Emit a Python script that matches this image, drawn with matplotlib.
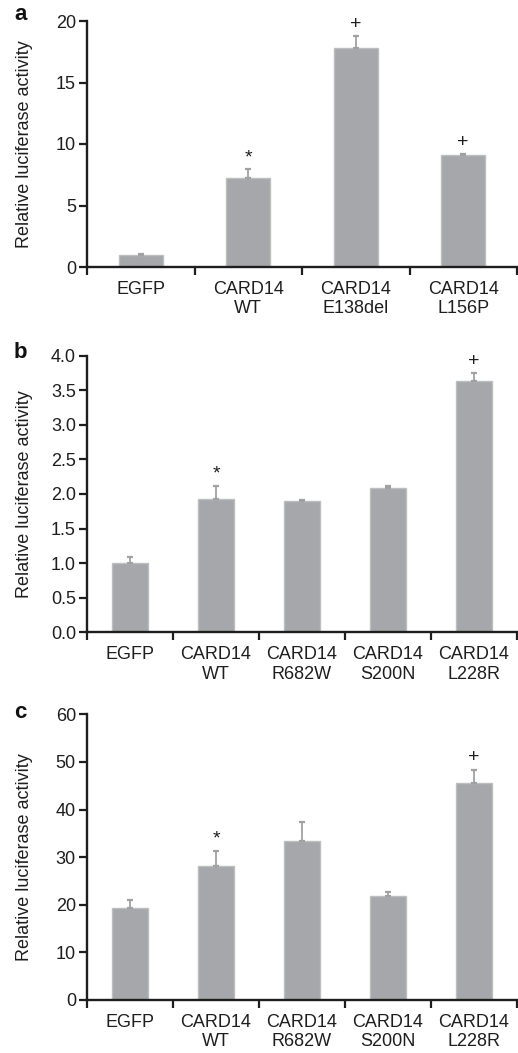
import matplotlib
matplotlib.use("Agg")
import matplotlib.pyplot as plt
import numpy as np

plt.rcParams['font.family'] = ['Liberation Sans', 'DejaVu Sans']

# Panel a
cats_a = ["EGFP", "CARD14\nWT", "CARD14\nE138del", "CARD14\nL156P"]
vals_a = [1.0, 7.2, 17.8, 9.1]
errs_a = [0.05, 0.8, 1.0, 0.12]
marks_a = ["", "*", "+", "+"]
yticks_a = [0, 5, 10, 15, 20]
ylim_a = (0, 20)

# Panel b
cats_b = ["EGFP", "CARD14\nWT", "CARD14\nR682W", "CARD14\nS200N", "CARD14\nL228R"]
vals_b = [1.0, 1.93, 1.90, 2.09, 3.64]
errs_b = [0.09, 0.19, 0.02, 0.03, 0.11]
marks_b = ["", "*", "", "", "+"]
yticks_b = [0.0, 0.5, 1.0, 1.5, 2.0, 2.5, 3.0, 3.5, 4.0]
ylim_b = (0, 4.0)

# Panel c
cats_c = ["EGFP", "CARD14\nWT", "CARD14\nR682W", "CARD14\nS200N", "CARD14\nL228R"]
vals_c = [19.4, 28.1, 33.4, 21.8, 45.6]
errs_c = [1.6, 3.1, 3.9, 0.9, 2.7]
marks_c = ["", "*", "", "", "+"]
yticks_c = [0, 10, 20, 30, 40, 50, 60]
ylim_c = (0, 60)

ylabel = "Relative luciferase activity"
panel_labels = ["a", "b", "c"]

W, H = 518, 1053
fig = plt.figure(figsize=(W / 100, H / 100), dpi=100)

bar_color = "#a6a7aa"
edge_color = "#bdbec0"
txt = "#1e1e1e"
FS = 13


def make_axes(top_px, bottom_px):
    left = 87 / W
    right = 517 / W
    return fig.add_axes([left, 1 - bottom_px / H, right - left, (bottom_px - top_px) / H])


def draw(ax, cats, vals, errs, marks, yticks, ylim, fmt, mark_off):
    n = len(cats)
    x = np.arange(n)
    lower = np.zeros(n)
    ax.bar(x, vals, width=0.41, color=bar_color, edgecolor=edge_color, linewidth=1.0,
           yerr=[lower, errs], error_kw=dict(ecolor="#a0a1a4", elinewidth=1.3, capsize=2.5, capthick=1.6),
           zorder=2)
    for xi, v, e, m in zip(x, vals, errs, marks):
        if m:
            ax.text(xi, v + e + mark_off, m, ha="center", va="bottom", fontsize=FS + 1, color=txt)
    ax.set_xlim(-0.5, n - 0.5)
    ax.set_ylim(*ylim)
    ax.set_yticks(yticks)
    ax.set_yticklabels([fmt.format(t) for t in yticks], fontsize=FS, color=txt)
    ax.set_xticks(np.arange(n + 1) - 0.5)
    ax.set_xticklabels([])
    ax.set_xticks(x, minor=True)
    ax.set_xticklabels(cats, minor=True, fontsize=FS, color=txt, linespacing=1.2)
    ax.tick_params(axis="x", which="minor", length=0, pad=10)
    ax.tick_params(axis="x", which="major", length=6, width=1.6, direction="out", color=txt)
    ax.tick_params(axis="y", length=6, width=1.6, direction="out", color=txt, pad=2)
    for s in ["top", "right"]:
        ax.spines[s].set_visible(False)
    for s in ["left", "bottom"]:
        ax.spines[s].set_linewidth(1.7)
        ax.spines[s].set_color(txt)
    ax.set_ylabel(ylabel, fontsize=FS, color=txt)
    ax.yaxis.set_label_coords(-54 / 430, 0.5)


ax_a = make_axes(21, 267)
draw(ax_a, cats_a, vals_a, errs_a, marks_a, yticks_a, ylim_a, "{:d}", 0.2)
ax_b = make_axes(355.7, 632.3)
draw(ax_b, cats_b, vals_b, errs_b, marks_b, yticks_b, ylim_b, "{:.1f}", 0.04)
ax_c = make_axes(714.3, 1000)
draw(ax_c, cats_c, vals_c, errs_c, marks_c, yticks_c, ylim_c, "{:d}", 0.8)

for lab, ypx in zip(panel_labels, [14, 352, 713]):
    fig.text(14 / W, 1 - ypx / H, lab, fontsize=16, fontweight="bold", ha="left", va="center", color="#111111")

fig.savefig("out.png", dpi=100)
